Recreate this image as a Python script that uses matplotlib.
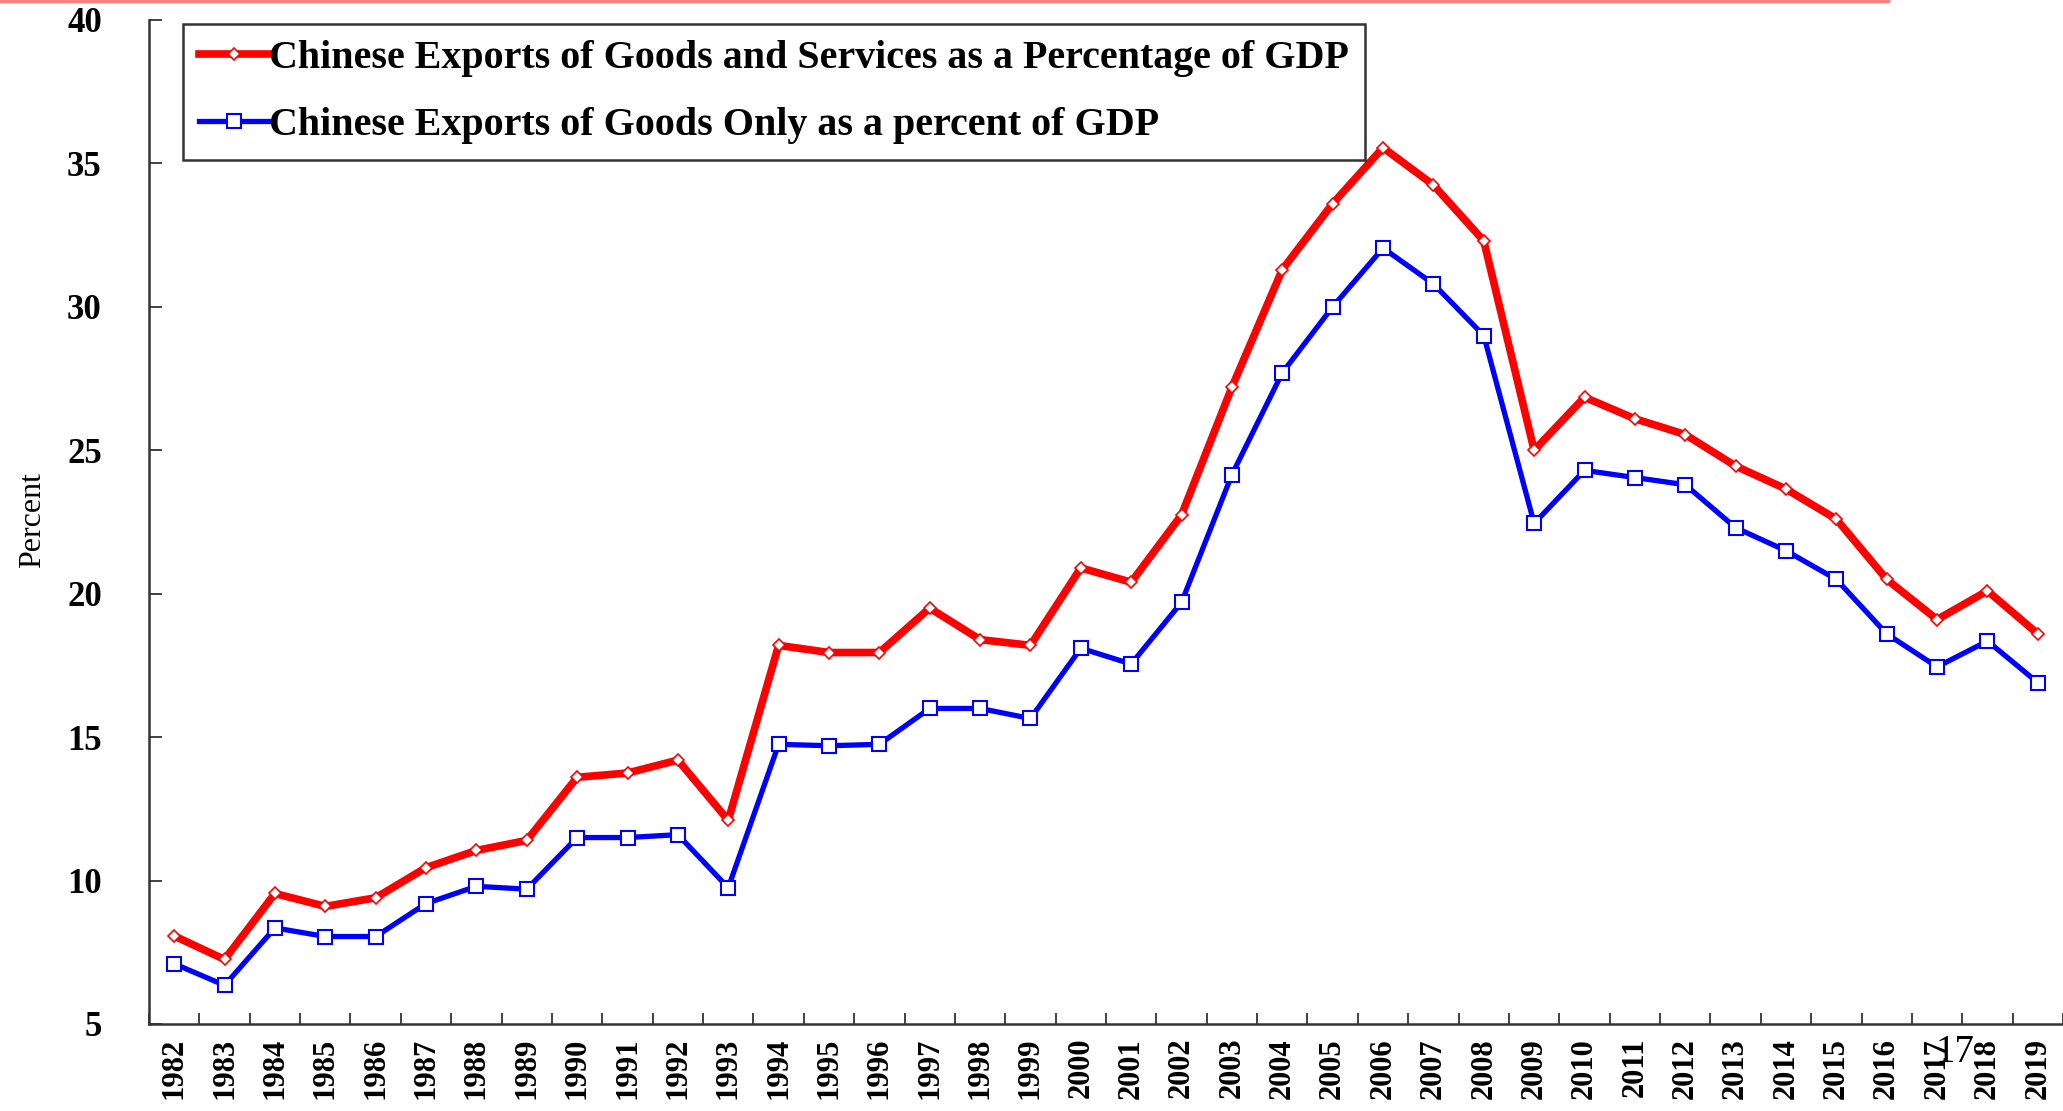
import matplotlib
matplotlib.use('Agg')
import matplotlib.pyplot as plt
from matplotlib.lines import Line2D

# Chinese exports as a share of GDP, 1982-2019
years = list(range(1982, 2020))
goods_services = [8.07, 7.25, 9.55, 9.1, 9.4, 10.45, 11.05, 11.4, 13.6, 13.75,
                  14.2, 12.1, 18.2, 17.95, 17.95, 19.5, 18.4, 18.2, 20.9, 20.4,
                  22.75, 27.2, 31.3, 33.6, 35.55, 34.25, 32.3, 25.0, 26.85, 26.1,
                  25.55, 24.45, 23.65, 22.6, 20.5, 19.1, 20.1, 18.6]
goods_only = [7.1, 6.35, 8.35, 8.05, 8.05, 9.2, 9.8, 9.7, 11.5, 11.5,
              11.6, 9.75, 14.75, 14.7, 14.75, 16.0, 16.0, 15.65, 18.1, 17.55,
              19.7, 24.15, 27.7, 30.0, 32.05, 30.8, 29.0, 22.45, 24.3, 24.05,
              23.8, 22.3, 21.5, 20.5, 18.6, 17.45, 18.35, 16.9]
y_ticks = [5, 10, 15, 20, 25, 30, 35, 40]
label_gs = 'Chinese Exports of Goods and Services as a Percentage of GDP'
label_g = 'Chinese Exports of Goods Only as a percent of GDP'

serif = ['Liberation Serif', 'DejaVu Serif']

fig = plt.figure(figsize=(20.63, 11.11), dpi=100)
ax = fig.add_axes([149 / 2063, 1 - 1024 / 1111, 1 - 149 / 2063, 1004 / 1111])

x = list(range(len(years)))
ax.plot(x, goods_services, color='#ff0000', lw=5.5, marker='D', ms=6.5,
        mfc='white', mec='#ff0000', mew=1.2, label=label_gs, zorder=3)
ax.plot(x, goods_only, color='#0000ff', lw=3.8, marker='s', ms=9.5,
        mfc='white', mec='#0000ff', mew=1.5, label=label_g, zorder=3)

ax.set_xlim(-0.5, len(years) - 0.5)
ax.set_ylim(5, 40)

# ticks between categories, labels centred on categories
ax.set_xticks([i - 0.5 for i in range(len(years) + 1)])
ax.set_xticklabels([])
ax.set_xticks(x, minor=True)
ax.set_xticklabels([str(y) for y in years], minor=True, rotation=90,
                   fontfamily=serif, fontweight='bold', fontsize=22)
ax.tick_params(axis='x', which='major', direction='in', length=8, width=1.3, color='#333333')
ax.tick_params(axis='x', which='minor', length=0, pad=10)

ax.set_yticks(y_ticks)
ax.set_yticklabels([str(v) for v in y_ticks], fontfamily=serif,
                   fontweight='bold', fontsize=25)
ax.tick_params(axis='y', direction='in', length=9, width=1.3, color='#333333', pad=34)

for s in ['top', 'right']:
    ax.spines[s].set_visible(False)
for s in ['left', 'bottom']:
    ax.spines[s].set_color('#333333')
    ax.spines[s].set_linewidth(1.8)

fig.text(33 / 2063, 1 - 520 / 1111, 'Percent', rotation=90, ha='center',
         va='center', fontfamily=serif, fontsize=23)

leg = ax.legend(loc='upper left', bbox_to_anchor=(0.0178, 0.996),
                prop={'family': serif, 'weight': 'bold', 'size': 28.8},
                frameon=True, fancybox=False, edgecolor='black',
                handlelength=1.75, handletextpad=0.0, labelspacing=0.75,
                borderpad=0.4, borderaxespad=0)
leg.get_frame().set_linewidth(1.8)

# thin salmon rule along the top of the slide
fig.add_artist(Line2D([0, 1888 / 2063], [0.999, 0.999], color='#ff8080', lw=2.5))

# slide page number
fig.text(1955 / 2063, 1 - 1052 / 1111, '17', ha='center', va='center',
         fontfamily=serif, fontsize=28)

fig.savefig('out.png', dpi=100)
